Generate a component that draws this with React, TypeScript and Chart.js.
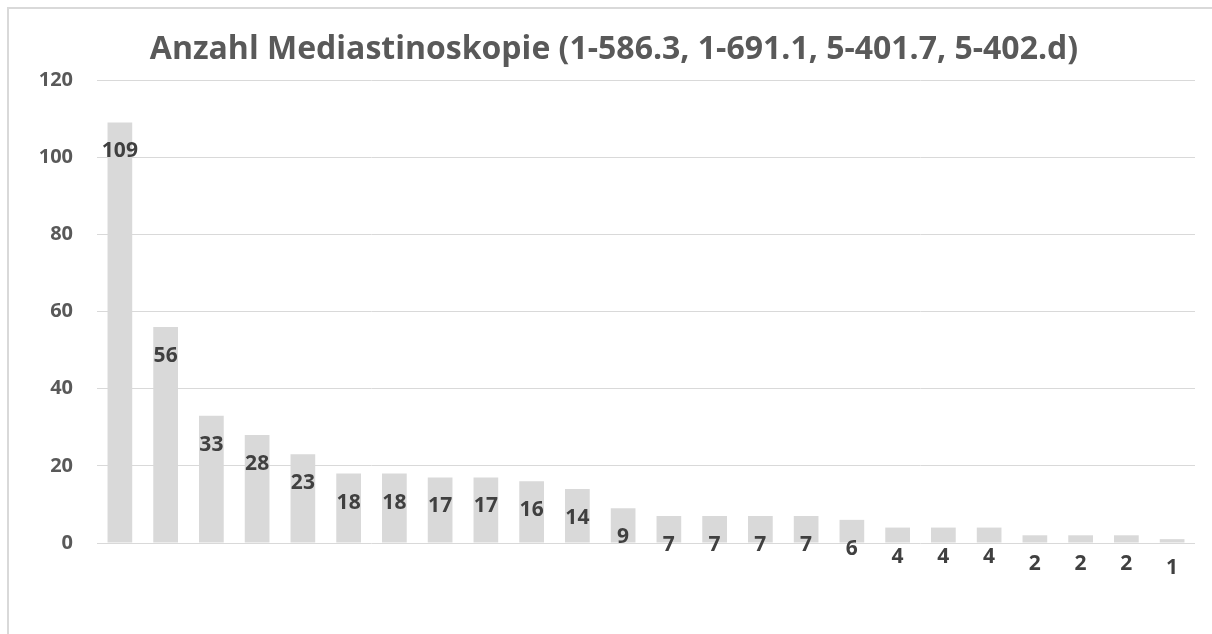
import React, { useEffect, useRef } from "react";
import { Chart, registerables } from "chart.js";

Chart.register(...registerables);

const TITLE = "Anzahl Mediastinoskopie (1-586.3, 1-691.1, 5-401.7, 5-402.d)";
const categories = [
  "1", "2", "3", "4", "5", "6", "7", "8", "9", "10", "11", "12",
  "13", "14", "15", "16", "17", "18", "19", "20", "21", "22", "23", "24",
];
const values = [109, 56, 33, 28, 23, 18, 18, 17, 17, 16, 14, 9, 7, 7, 7, 7, 6, 4, 4, 4, 2, 2, 2, 1];
const yTicks = [0, 20, 40, 60, 80, 100, 120];

const FONT = "'Open Sans', sans-serif";

export default function App() {
  const ref = useRef<HTMLCanvasElement | null>(null);
  useEffect(() => {
    if (!ref.current) return;
    const titlePlugin = {
      id: "customTitle",
      afterDraw(chart: any) {
        const ctx = chart.ctx;
        ctx.save();
        ctx.font = `bold 32px ${FONT}`;
        ctx.fillStyle = "#595959";
        ctx.textAlign = "center";
        ctx.textBaseline = "alphabetic";
        ctx.fillText(TITLE, 614, 59);
        ctx.restore();
      },
    };
    const labelPlugin = {
      id: "barLabels",
      afterDatasetsDraw(chart: any) {
        const ctx = chart.ctx;
        const meta = chart.getDatasetMeta(0);
        ctx.save();
        ctx.font = `bold 21px ${FONT}`;
        ctx.fillStyle = "#404040";
        ctx.textAlign = "center";
        ctx.textBaseline = "alphabetic";
        meta.data.forEach((bar: any, i: number) => {
          ctx.fillText(String(values[i]), bar.x, bar.y + 35);
        });
        ctx.restore();
      },
    };
    const chart = new Chart(ref.current, {
      type: "bar",
      data: {
        labels: categories,
        datasets: [
          {
            data: values,
            backgroundColor: "#d9d9d9",
            borderWidth: 0,
            categoryPercentage: 1,
            barPercentage: 0.54,
          },
        ],
      },
      options: {
        responsive: false,
        animation: false,
        devicePixelRatio: 1,
        layout: { padding: { left: 0, right: 17, top: 80, bottom: 91 } },
        plugins: {
          legend: { display: false },
          title: { display: false },
          tooltip: { enabled: false },
        },
        scales: {
          x: {
            afterFit(scale: any) {
              scale.height = 0;
            },
            grid: { display: false },
            border: { display: false },
            ticks: { display: false },
          },
          y: {
            min: 0,
            max: 120,
            afterFit(scale: any) {
              scale.width = 97;
            },
            afterBuildTicks(scale: any) {
              scale.ticks = yTicks.map((v) => ({ value: v }));
            },
            grid: { color: "#d9d9d9", lineWidth: 1, drawTicks: false },
            border: { display: false },
            ticks: {
              padding: 24,
              color: "#595959",
              font: { family: FONT, size: 20, weight: "bold" },
            },
          },
        },
      },
      plugins: [titlePlugin, labelPlugin],
    });
    return () => chart.destroy();
  }, []);
  return (
    <div style={{ position: "fixed", left: 0, top: 0, width: 1212, height: 634, overflow: "hidden", background: "#fff" }}>
      <div
        style={{
          position: "absolute",
          left: 7,
          top: 7,
          width: 1260,
          height: 700,
          border: "2px solid #d9d9d9",
          boxSizing: "border-box",
        }}
      />
      <canvas ref={ref} width={1212} height={634} style={{ position: "absolute", left: 0, top: 0 }} />
    </div>
  );
}
